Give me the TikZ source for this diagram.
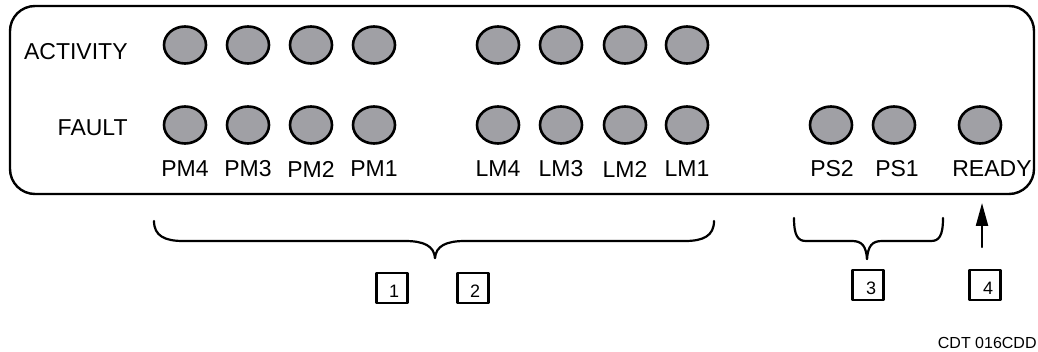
\documentclass[tikz,border=0pt]{standalone}
\usepackage{fontspec}
\setmainfont{Liberation Sans}
\usetikzlibrary{shapes.geometric,arrows.meta}

\begin{document}
\begin{tikzpicture}[x=0.5pt, y=-0.5pt, line join=round, line cap=round,
    led/.style={ellipse, draw, line width=1.3pt, fill=ledgray,
        minimum width=21pt, minimum height=18.5pt, inner sep=0pt},
    ledlabel/.style={inner sep=0pt, font=\fontsize{11.5}{13}\selectfont},
    keybox/.style={draw, line width=1.2pt, minimum width=15.5pt, minimum height=15pt,
        inner sep=0pt, text height=9.4pt, text depth=0pt, font=\fontsize{9}{11}\selectfont},
    brace/.style={line width=1.1pt}]
        \definecolor{ledgray}{RGB}{160,160,165}
        \useasboundingbox (0,0) rectangle (1038,352);

        % front panel
        \draw[line width=1.2pt, rounded corners=12.5pt] (10,6) rectangle (1034,194);

        \node[ledlabel, anchor=east] (activity) at (128,52) {ACTIVITY};
        \node[ledlabel, anchor=east] (fault) at (128,128) {FAULT};

        \foreach \name/\x in {PM4/185, PM3/248, PM2/311, PM1/374, LM4/498, LM3/561, LM2/625, LM1/687} {
            \node[led] (act\name) at (\x,45) {};
            \node[led] (flt\name) at (\x,125) {};
            \node[ledlabel] (lbl\name) at (\x,169) {\name};
        }

        \node[led] (fltPS2) at (831,125) {};
        \node[led] (fltPS1) at (894,125) {};
        \node[led] (fltREADY) at (980,125) {};
        \node[ledlabel] (lblPS2) at (832,169) {PS2};
        \node[ledlabel] (lblPS1) at (897,169) {PS1};
        \node[ledlabel] (lblREADY) at (992,169) {READY};

        % braces under the modules
        \draw[brace] (154,221) .. controls (154,236) and (165,241) .. (183,241) -- (405,241)
            .. controls (424,241) and (434,246) .. (435,258);
        \draw[brace] (714,221) .. controls (714,236) and (703,241) .. (685,241) -- (465,241)
            .. controls (446,241) and (436,246) .. (435,258);
        \draw[brace] (794,218) .. controls (794,236) and (798,241) .. (806,241) -- (852,241)
            .. controls (862,241) and (866,246) .. (867,259);
        \draw[brace] (943,218) .. controls (943,236) and (939,241) .. (931,241) -- (882,241)
            .. controls (872,241) and (868,246) .. (867,259);

        \coordinate (arrowfoot) at (982,247);
        \coordinate (arrowtip) at (982,203);
        \draw[line width=1.1pt, -{Triangle[length=11.5pt, width=6pt]}] (arrowfoot) -- (arrowtip);

        \node[keybox] (key1) at (392,288) {\hspace*{2pt}1};
        \node[keybox] (key2) at (473,288) {\hspace*{2pt}2};
        \node[keybox] (key3) at (868,285) {\hspace*{3pt}3};
        \node[keybox] (key4) at (985,285) {\hspace*{3pt}4};

        \node[inner sep=0pt, anchor=east, font=\fontsize{8}{10}\selectfont] (figid) at (1037,343) {CDT 016CDD};
    \end{tikzpicture}
\end{document}
